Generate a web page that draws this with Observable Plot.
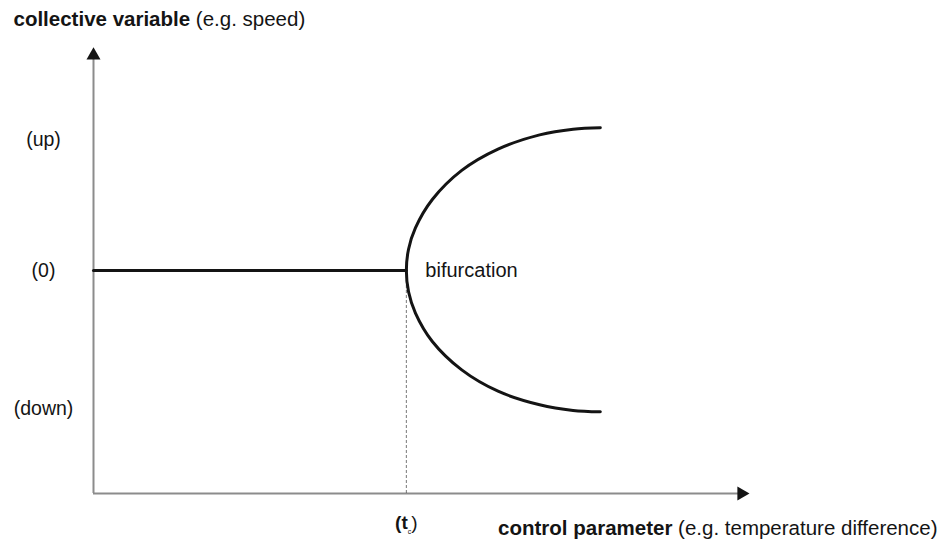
<!DOCTYPE html>
<html><head><meta charset="utf-8">
<script src="https://cdn.jsdelivr.net/npm/d3@7"></script>
<script src="https://cdn.jsdelivr.net/npm/@observablehq/plot@0.6"></script>
<style>body{margin:0;background:#fff;} svg{font-family:"Liberation Sans",Arial,sans-serif;}</style>
</head><body><div id="chart"></div>
<script>
// tick values (positions of the labels) and labels
const yTicks = [0.92, 0, -0.97];
const yTickLabels = ["(up)", "(0)", "(down)"];
const xTicks = [1];
const xTickLabelParts = ["(t", "c", ")"];
// title / caption / annotation
const titleParts = ["collective variable", " (e.g. speed)"];
const captionParts = ["control parameter", " (e.g. temperature difference)"];
const annotation = ["bifurcation"];
// stable branch (collective variable = 0 before the critical value)
const stableX = [0, 1];
const stableY = [0, 0];
// bifurcated branches (upper end -> vertex -> lower end)
const branchX = [1.62, 1.533, 1.426, 1.293, 1.177, 1.083, 1.029, 1.007, 1.0, 1.007, 1.029, 1.083, 1.177, 1.293, 1.426, 1.533, 1.62];
const branchY = [1.005, 0.995, 0.955, 0.855, 0.705, 0.5, 0.3, 0.15, 0, -0.15, -0.3, -0.5, -0.7, -0.85, -0.945, -0.985, -0.995];
// axis extents
const xAxisX = [0, 2.071];
const yAxisY = [-1.57, 1.514];
const domainX = [0, 2.1];
const domainY = [-1.57, 1.57];

const branch = branchX.map((x, i) => ({x, y: branchY[i]}));
const stable = stableX.map((x, i) => ({x, y: stableY[i]}));
const arrows = [
  {x: xAxisX[0], y: yAxisY[1], rot: 0},
  {x: xAxisX[1], y: yAxisY[0], rot: 90}
];
const ink = "#141414";
const axisGray = "#8c8c8c";

const chart = Plot.plot({
  width: 941,
  height: 547,
  marginLeft: 93,
  marginRight: 191,
  marginTop: 47,
  marginBottom: 54,
  style: {fontFamily: "'Liberation Sans', Arial, sans-serif", color: ink, background: "#fff"},
  x: {domain: domainX, axis: null},
  y: {domain: domainY, axis: null},
  marks: [
    Plot.ruleX([xAxisX[0]], {y1: yAxisY[0], y2: yAxisY[1], stroke: axisGray, strokeWidth: 2}),
    Plot.ruleY([yAxisY[0]], {x1: xAxisX[0], x2: xAxisX[1], stroke: axisGray, strokeWidth: 2}),
    Plot.dot(arrows, {x: "x", y: "y", symbol: "triangle", r: 5.2, fill: ink, stroke: "none", rotate: "rot"}),
    Plot.ruleX(xTicks, {y1: 0, y2: yAxisY[0], stroke: "#555", strokeWidth: 0.8, strokeDasharray: "3,2"}),
    Plot.line(stable, {x: "x", y: "y", stroke: ink, strokeWidth: 3}),
    Plot.line(branch, {x: "x", y: "y", stroke: ink, strokeWidth: 3, curve: "catmull-rom"}),
    Plot.text(annotation, {x: xTicks[0], y: 0, text: d => d, textAnchor: "start", dx: 19, fontSize: 20, fill: ink}),
    Plot.axisY(yTicks, {tickSize: 0, tickPadding: 50, textAnchor: "middle", tickFormat: (d) => yTickLabels[yTicks.indexOf(d)], fontSize: 19.5, label: null, fill: ink}),
    Plot.text(xTicks, {x: d => d, y: yAxisY[0], text: () => xTickLabelParts.join(""), dy: 29, fontSize: 19, fill: ink}),
    Plot.text([titleParts.join("")], {frameAnchor: "top-left", text: d => d, textAnchor: "start", dx: -80, dy: -36, fontSize: 20.5, fill: ink}),
    Plot.text([captionParts.join("")], {frameAnchor: "bottom-right", text: d => d, textAnchor: "end", dx: 187, dy: 41, fontSize: 20.5, fill: ink})
  ]
});

// rich text: bold parts and subscript
d3.select(chart).selectAll("text").each(function() {
  const t = d3.select(this);
  const s = t.text();
  if (s === titleParts.join("") || s === captionParts.join("")) {
    const parts = s === titleParts.join("") ? titleParts : captionParts;
    t.text(null);
    t.append("tspan").attr("font-weight", "bold").text(parts[0]);
    t.append("tspan").text(parts[1]);
  } else if (s === xTickLabelParts.join("")) {
    t.text(null);
    t.append("tspan").attr("font-weight", "bold").text(xTickLabelParts[0]);
    t.append("tspan").attr("font-size", 7).attr("dy", 5).text(xTickLabelParts[1]);
    t.append("tspan").attr("dy", -5).text(xTickLabelParts[2]);
  }
});
document.getElementById("chart").append(chart);
</script>
</body></html>
